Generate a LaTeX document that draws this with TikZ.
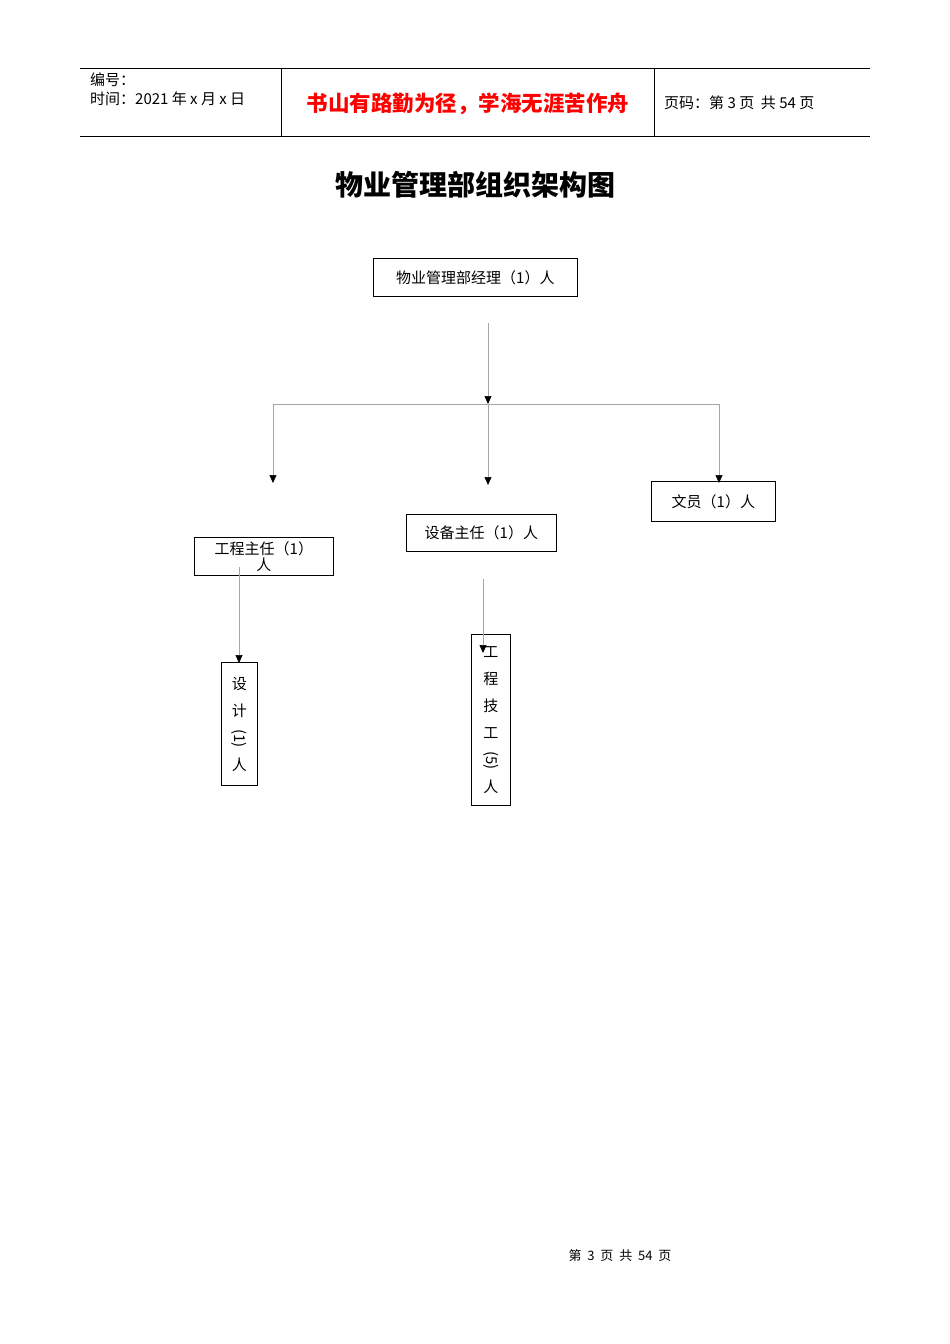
\documentclass[tikz,border=0pt]{standalone}
\usepackage{fontspec}
\setmainfont{Noto Sans CJK SC}
\usetikzlibrary{arrows.meta}
\begin{document}
\begin{tikzpicture}[x=1pt,y=-1pt,
  box/.style={draw,thick,inner sep=0pt,anchor=north west,font=\fontsize{15}{16}\selectfont},
  conn/.style={draw=gray!70,line width=0.6pt},
  arr/.style={conn,-{Triangle[width=7pt,length=8pt,fill=black,color=black]}},
  lbl/.style={inner sep=0pt}]
\useasboundingbox (0,0) rectangle (950,1344);
% header
\draw[line width=0.6pt] (80,68) -- (870,68) (80,136) -- (870,136) (281,68) -- (281,136) (654,68) -- (654,136);
\node[lbl,anchor=west,font=\fontsize{15}{16}\selectfont] (h1) at (90,80) {编号：};
\node[lbl,anchor=west,font=\fontsize{15}{16}\selectfont] (h2) at (90,99) {时间：2021 年 x 月 x 日};
\node[lbl,font=\bfseries\fontsize{21.5}{23}\selectfont,text=red] (h3) at (468,104) {书山有路勤为径，学海无涯苦作舟};
\node[lbl,anchor=west,font=\fontsize{15}{16}\selectfont] (h4) at (664,103) {页码：第 3 页\ \ 共 54 页};
\node[lbl,font=\bfseries\fontsize{28}{30}\selectfont] (title) at (475,185) {物业管理部组织架构图};
% boxes
\node[box,minimum width=204pt,minimum height=38pt] (mgr) at (373,258) {物业管理部经理（1）人};
\node[box,minimum width=124pt,minimum height=40pt] (clerk) at (651,481) {文员（1）人};
\node[box,minimum width=150pt,minimum height=37pt] (eq) at (406,514) {设备主任（1）人};
\node[box,minimum width=139pt,minimum height=38pt,align=center,font=\fontsize{15}{16}\selectfont] (eng) at (194,537) {工程主任（1）\\人};
\node[box,minimum width=36pt,minimum height=123pt,align=center,font=\fontsize{15}{27}\selectfont] (design) at (221,662) {设\\计\\\rotatebox[origin=c]{-90}{(1)}\\人};
\node[box,minimum width=39pt,minimum height=171pt,align=center,font=\fontsize{15}{27}\selectfont] (tech) at (471,634) {工\\程\\技\\工\\\rotatebox[origin=c]{-90}{(5)}\\人};
% connectors
\coordinate (a0) at (488,323); \coordinate (a1) at (488,404);
\coordinate (l) at (273,404); \coordinate (r) at (719,404);
\coordinate (ta) at (273,483); \coordinate (tb) at (488,485); \coordinate (tc) at (719,483);
\draw[arr] (a0) -- (a1);
\draw[conn] (l) -- (r);
\draw[arr] (l) -- (ta);
\draw[arr] (a1) -- (tb);
\draw[arr] (r) -- (tc);
\coordinate (e0) at (239,567); \coordinate (e1) at (239,663);
\draw[arr] (e0) -- (e1);
\coordinate (q0) at (483,579); \coordinate (q1) at (483,653);
\draw[arr] (q0) -- (q1);
\node[lbl,font=\fontsize{13}{14}\selectfont] (foot) at (620,1256) {第\ \ 3\ \ 页\ \ 共\ \ 54\ \ 页};
\end{tikzpicture}
\end{document}
